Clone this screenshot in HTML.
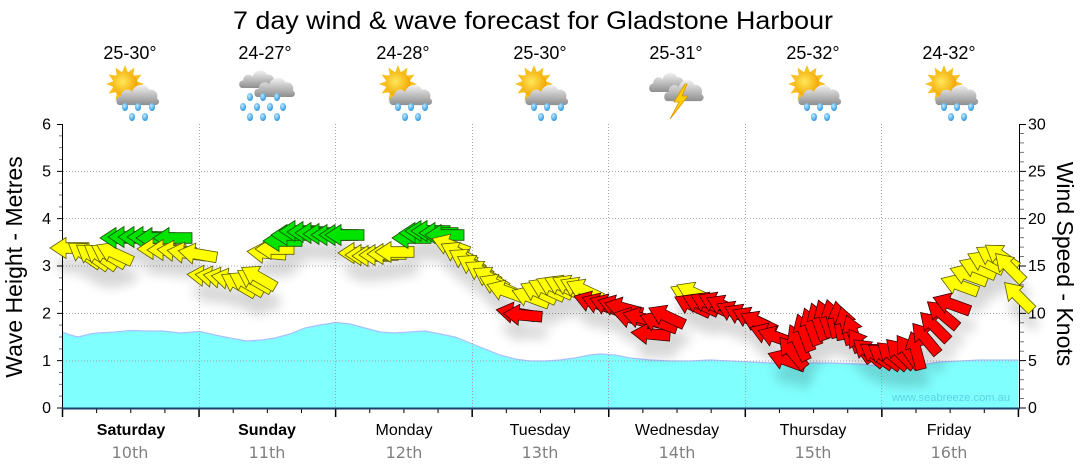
<!DOCTYPE html>
<html><head><meta charset="utf-8">
<style>
html,body{margin:0;padding:0;background:#fff;}
svg{display:block;}
text{font-family:"Liberation Sans",Arial,sans-serif;}
.dv{font-family:"DejaVu Sans",Verdana,sans-serif;}
.y{fill:#ffff00;stroke:#5a5a00;stroke-width:0.8;}
.g{fill:#00e400;stroke:#1a5200;stroke-width:0.8;}
.r{fill:#ff0000;stroke:#3a0000;stroke-width:0.8;}
</style></head><body>
<svg width="1080" height="475" viewBox="0 0 1080 475" xmlns="http://www.w3.org/2000/svg" xmlns:xlink="http://www.w3.org/1999/xlink">
<defs>
 <filter id="sh" filterUnits="userSpaceOnUse" x="0" y="0" width="1080" height="475">
   <feGaussianBlur in="SourceAlpha" stdDeviation="5.5" result="b"/>
   <feOffset in="b" dx="4" dy="17" result="o"/>
   <feComponentTransfer in="o" result="s"><feFuncA type="linear" slope="0.16"/></feComponentTransfer>
   <feMerge><feMergeNode in="s"/><feMergeNode in="SourceGraphic"/></feMerge>
 </filter>
 <linearGradient id="cg" x1="0" y1="0" x2="0" y2="1">
   <stop offset="0" stop-color="#f2f2f2"/><stop offset="1" stop-color="#8e8e8e"/>
 </linearGradient>
 <radialGradient id="sg" cx="0.4" cy="0.4" r="0.6">
   <stop offset="0" stop-color="#ffe85a"/><stop offset="1" stop-color="#f2a600"/>
 </radialGradient>
 <radialGradient id="dg" cx="0.4" cy="0.35" r="0.7">
   <stop offset="0" stop-color="#bfeaff"/><stop offset="1" stop-color="#1f8fdc"/>
 </radialGradient>
 <polygon id="a" points="-19,0 -3,-10.5 -3,-5.3 20,-5.3 20,5.3 -3,5.3 -3,10.5"/>
 <path id="cloud" d="M5,21 C0,21 0,13 6,13 C6,7 14,5 17,9 C19,2 31,0 34,7 C39,6 44,10 42,15 C46,17 44,21 40,21 Z" fill="url(#cg)"/>
 <ellipse id="drop" rx="3" ry="4" fill="url(#dg)"/>
 <g id="sunrain">
   <polygon fill="#f7c020" points="22,-1 24.9,6.3 31.5,1.6 30.1,9.9 38.5,8.5 33.6,15.1 41,18 33.6,20.9 38.5,27.5 30.1,26.1 31.5,34.4 24.9,29.7 22,37 19.1,29.7 12.5,34.4 13.9,26.1 5.5,27.5 10.4,20.9 3,18 10.4,15.1 5.5,8.5 13.9,9.9 12.5,1.6 19.1,6.3"/>
   <circle cx="22" cy="18" r="12.5" fill="url(#sg)"/>
   <use href="#cloud" xlink:href="#cloud" transform="translate(12,16) scale(1,1.1)"/>
   <use href="#drop" xlink:href="#drop" x="22" y="41"/><use href="#drop" xlink:href="#drop" x="35" y="41"/><use href="#drop" xlink:href="#drop" x="49" y="41"/>
   <use href="#drop" xlink:href="#drop" x="29" y="51"/><use href="#drop" xlink:href="#drop" x="42" y="51"/>
 </g>
 <g id="rain">
   <use href="#cloud" xlink:href="#cloud" transform="translate(-1,2) scale(0.85,0.95)"/>
   <use href="#cloud" xlink:href="#cloud" transform="translate(14,9) scale(0.95,1.05)"/>
   <use href="#drop" xlink:href="#drop" x="11" y="31"/><use href="#drop" xlink:href="#drop" x="24" y="31"/><use href="#drop" xlink:href="#drop" x="38" y="31"/>
   <use href="#drop" xlink:href="#drop" x="4" y="41"/><use href="#drop" xlink:href="#drop" x="18" y="41"/><use href="#drop" xlink:href="#drop" x="31" y="41"/><use href="#drop" xlink:href="#drop" x="44" y="41"/>
   <use href="#drop" xlink:href="#drop" x="11" y="51"/><use href="#drop" xlink:href="#drop" x="24" y="51"/><use href="#drop" xlink:href="#drop" x="38" y="51"/>
 </g>
 <g id="storm">
   <use href="#cloud" xlink:href="#cloud" transform="translate(0,4) scale(0.85,1.05)"/>
   <use href="#cloud" xlink:href="#cloud" transform="translate(15,11) scale(0.92,1.15)"/>
   <polygon points="37,18 26,36 31,36 22,53 40,30 34,30 39,18" fill="#ffd000" stroke="#e09000" stroke-width="0.8"/>
 </g>
</defs>

<rect width="1080" height="475" fill="#fff"/>

<text x="533" y="29" font-size="25" text-anchor="middle" fill="#000" textLength="600" lengthAdjust="spacingAndGlyphs">7 day wind &amp; wave forecast for Gladstone Harbour</text>

<g font-size="18" text-anchor="middle" fill="#000">
 <text x="130" y="59">25-30°</text>
 <text x="265" y="59">24-27°</text>
 <text x="403" y="59">24-28°</text>
 <text x="540" y="59">25-30°</text>
 <text x="676" y="59">25-31°</text>
 <text x="813" y="59">25-32°</text>
 <text x="949" y="59">24-32°</text>
</g>

<use href="#sunrain" xlink:href="#sunrain" x="103" y="66"/>
<use href="#rain" xlink:href="#rain" x="239" y="66"/>
<use href="#sunrain" xlink:href="#sunrain" x="376" y="66"/>
<use href="#sunrain" xlink:href="#sunrain" x="512" y="66"/>
<use href="#storm" xlink:href="#storm" x="648" y="66"/>
<use href="#sunrain" xlink:href="#sunrain" x="785" y="66"/>
<use href="#sunrain" xlink:href="#sunrain" x="922" y="66"/>

<path d="M62.5,408 L62.5,332 L70,335 L78,337 L90,334 L97,333 L115,332 L130,330.5 L145,331 L163,331 L180,333 L200,331.5 L215,335 L230,338 L247,341 L262,340 L275,338 L290,334 L305,328 L320,325 L336,322.5 L350,324 L365,328 L380,332 L395,333 L410,332 L425,331 L440,334 L455,337 L470,343 L485,349 L500,355 L515,359 L530,361 L545,361 L560,360 L575,358 L590,355 L600,354 L615,355 L630,358 L650,360 L670,361 L690,361 L710,360 L730,361 L750,362 L770,363 L800,363 L830,363 L860,364 L880,366 L900,366 L920,365 L940,362 L960,361 L980,360 L1000,360 L1018.5,360 L1018.5,408 Z" fill="#80ffff"/>
<path d="M62.5,332 L70,335 L78,337 L90,334 L97,333 L115,332 L130,330.5 L145,331 L163,331 L180,333 L200,331.5 L215,335 L230,338 L247,341 L262,340 L275,338 L290,334 L305,328 L320,325 L336,322.5 L350,324 L365,328 L380,332 L395,333 L410,332 L425,331 L440,334 L455,337 L470,343 L485,349 L500,355 L515,359 L530,361 L545,361 L560,360 L575,358 L590,355 L600,354 L615,355 L630,358 L650,360 L670,361 L690,361 L710,360 L730,361 L750,362 L770,363 L800,363 L830,363 L860,364 L880,366 L900,366 L920,365 L940,362 L960,361 L980,360 L1000,360 L1018.5,360" fill="none" stroke="#a8c0ff" stroke-width="1.2"/>

<text x="892" y="401" font-size="11" fill="#5cd2e2" textLength="118" lengthAdjust="spacingAndGlyphs">www.seabreeze.com.au</text>

<g stroke="#a8a8a8" stroke-width="1" stroke-dasharray="1,2" fill="none">
 <line x1="63" y1="361" x2="1018" y2="361"/>
 <line x1="63" y1="313.5" x2="1018" y2="313.5"/>
 <line x1="63" y1="266" x2="1018" y2="266"/>
 <line x1="63" y1="218.5" x2="1018" y2="218.5"/>
 <line x1="63" y1="171.5" x2="1018" y2="171.5"/>
 <line x1="199.5" y1="124" x2="199.5" y2="408"/>
 <line x1="335.5" y1="124" x2="335.5" y2="408"/>
 <line x1="472.5" y1="124" x2="472.5" y2="408"/>
 <line x1="608.5" y1="124" x2="608.5" y2="408"/>
 <line x1="745.5" y1="124" x2="745.5" y2="408"/>
 <line x1="881.5" y1="124" x2="881.5" y2="408"/>
</g>

<path stroke="#777" stroke-width="1" fill="none" d="M59,396.17h3.5M59,384.33h3.5M59,372.5h3.5M59,348.83h3.5M59,337h3.5M59,325.17h3.5M59,301.5h3.5M59,289.67h3.5M59,277.83h3.5M59,254.17h3.5M59,242.33h3.5M59,230.5h3.5M59,206.83h3.5M59,195h3.5M59,183.17h3.5M59,159.5h3.5M59,147.67h3.5M59,135.83h3.5"/>
<path stroke="#000" stroke-width="1" fill="none" d="M57,408h5.5M57,360.67h5.5M57,313.33h5.5M57,266h5.5M57,218.67h5.5M57,171.33h5.5M57,124.5h5.5"/>
<path stroke="#777" stroke-width="1" fill="none" d="M1019.5,398.53h4.5M1019.5,389.07h4.5M1019.5,379.6h4.5M1019.5,370.13h4.5M1019.5,351.2h4.5M1019.5,341.73h4.5M1019.5,332.27h4.5M1019.5,322.8h4.5M1019.5,303.87h4.5M1019.5,294.4h4.5M1019.5,284.93h4.5M1019.5,275.47h4.5M1019.5,256.53h4.5M1019.5,247.07h4.5M1019.5,237.6h4.5M1019.5,228.13h4.5M1019.5,209.2h4.5M1019.5,199.73h4.5M1019.5,190.27h4.5M1019.5,180.8h4.5M1019.5,161.87h4.5M1019.5,152.4h4.5M1019.5,142.93h4.5M1019.5,133.47h4.5"/>
<path stroke="#000" stroke-width="1" fill="none" d="M1019.5,408h6.5M1019.5,360.67h6.5M1019.5,313.33h6.5M1019.5,266h6.5M1019.5,218.67h6.5M1019.5,171.33h6.5M1019.5,124.5h6.5"/>
<path stroke="#000" stroke-width="1" fill="none" d="M96.64,408v5M130.78,408v5M164.92,408v5M233.2,408v5M267.34,408v5M301.48,408v5M369.76,408v5M403.9,408v5M438.04,408v5M506.32,408v5M540.46,408v5M574.6,408v5M642.88,408v5M677.02,408v5M711.16,408v5M779.44,408v5M813.58,408v5M847.72,408v5M916,408v5M950.14,408v5M984.28,408v5"/>
<path stroke="#000" stroke-width="1.5" fill="none" d="M62.5,408v9M199.06,408v9M335.62,408v9M472.18,408v9M608.74,408v9M745.3,408v9M881.86,408v9M1018.42,408v9"/>

<line x1="62.5" y1="124" x2="62.5" y2="409" stroke="#000" stroke-width="1"/>
<line x1="1019.5" y1="124" x2="1019.5" y2="409" stroke="#000" stroke-width="1"/>
<line x1="62" y1="408.5" x2="1020" y2="408.5" stroke="#1c3f6e" stroke-width="2"/>

<g font-size="16" text-anchor="end" fill="#000">
 <text x="51" y="413">0</text>
 <text x="51" y="366">1</text>
 <text x="51" y="318.5">2</text>
 <text x="51" y="271">3</text>
 <text x="51" y="224">4</text>
 <text x="51" y="176.5">5</text>
 <text x="51" y="129.5">6</text>
</g>
<g font-size="16" text-anchor="start" fill="#000">
 <text x="1028" y="413">0</text>
 <text x="1028" y="366">5</text>
 <text x="1028" y="318.5">10</text>
 <text x="1028" y="271">15</text>
 <text x="1028" y="224">20</text>
 <text x="1028" y="176.5">25</text>
 <text x="1028" y="129.5">30</text>
</g>

<text transform="translate(22,267) rotate(-90)" font-size="23" text-anchor="middle" fill="#000">Wave Height - Metres</text>
<text transform="translate(1057,264) rotate(90)" font-size="23" text-anchor="middle" fill="#000">Wind Speed - Knots</text>

<g font-size="16" text-anchor="middle" fill="#000">
 <text x="131" y="435" font-weight="bold">Saturday</text>
 <text x="267" y="435" font-weight="bold">Sunday</text>
 <text x="404" y="435">Monday</text>
 <text x="540" y="435">Tuesday</text>
 <text x="677" y="435">Wednesday</text>
 <text x="813" y="435">Thursday</text>
 <text x="949" y="435">Friday</text>
</g>
<g font-size="16" text-anchor="middle" fill="#808080">
 <text class="dv" x="130" y="458">10th</text>
 <text class="dv" x="267" y="458">11th</text>
 <text class="dv" x="404" y="458">12th</text>
 <text class="dv" x="540" y="458">13th</text>
 <text class="dv" x="677" y="458">14th</text>
 <text class="dv" x="813" y="458">15th</text>
 <text class="dv" x="949" y="458">16th</text>
</g>

<g filter="url(#sh)">
<use href="#a" xlink:href="#a" class="y" transform="translate(69,248) rotate(0)"/>
<use href="#a" xlink:href="#a" class="y" transform="translate(84,254) rotate(35)"/>
<use href="#a" xlink:href="#a" class="y" transform="translate(92,256) rotate(35)"/>
<use href="#a" xlink:href="#a" class="y" transform="translate(100,256) rotate(35)"/>
<use href="#a" xlink:href="#a" class="y" transform="translate(108,255) rotate(30)"/>
<use href="#a" xlink:href="#a" class="y" transform="translate(114,253) rotate(25)"/>
<use href="#a" xlink:href="#a" class="g" transform="translate(119,238) rotate(0)"/>
<use href="#a" xlink:href="#a" class="g" transform="translate(127,237) rotate(0)"/>
<use href="#a" xlink:href="#a" class="g" transform="translate(137,237) rotate(0)"/>
<use href="#a" xlink:href="#a" class="g" transform="translate(146,237) rotate(0)"/>
<use href="#a" xlink:href="#a" class="g" transform="translate(155,238) rotate(0)"/>
<use href="#a" xlink:href="#a" class="g" transform="translate(172,238) rotate(0)"/>
<use href="#a" xlink:href="#a" class="y" transform="translate(156,249) rotate(0)"/>
<use href="#a" xlink:href="#a" class="y" transform="translate(166,250) rotate(0)"/>
<use href="#a" xlink:href="#a" class="y" transform="translate(176,251) rotate(5)"/>
<use href="#a" xlink:href="#a" class="y" transform="translate(186,253) rotate(8)"/>
<use href="#a" xlink:href="#a" class="y" transform="translate(197,254) rotate(10)"/>
<use href="#a" xlink:href="#a" class="y" transform="translate(206,276) rotate(5)"/>
<use href="#a" xlink:href="#a" class="y" transform="translate(214,277) rotate(8)"/>
<use href="#a" xlink:href="#a" class="y" transform="translate(222,278) rotate(10)"/>
<use href="#a" xlink:href="#a" class="y" transform="translate(230,279) rotate(10)"/>
<use href="#a" xlink:href="#a" class="y" transform="translate(238,284) rotate(30)"/>
<use href="#a" xlink:href="#a" class="y" transform="translate(246,283) rotate(30)"/>
<use href="#a" xlink:href="#a" class="y" transform="translate(254,280) rotate(30)"/>
<use href="#a" xlink:href="#a" class="y" transform="translate(258,277) rotate(30)"/>
<use href="#a" xlink:href="#a" class="y" transform="translate(266,253) rotate(5)"/>
<use href="#a" xlink:href="#a" class="y" transform="translate(274,249) rotate(0)"/>
<use href="#a" xlink:href="#a" class="g" transform="translate(282,241) rotate(0)"/>
<use href="#a" xlink:href="#a" class="g" transform="translate(290,235) rotate(0)"/>
<use href="#a" xlink:href="#a" class="g" transform="translate(298,231) rotate(0)"/>
<use href="#a" xlink:href="#a" class="g" transform="translate(306,232) rotate(0)"/>
<use href="#a" xlink:href="#a" class="g" transform="translate(314,233) rotate(0)"/>
<use href="#a" xlink:href="#a" class="g" transform="translate(322,234) rotate(0)"/>
<use href="#a" xlink:href="#a" class="g" transform="translate(330,235) rotate(0)"/>
<use href="#a" xlink:href="#a" class="g" transform="translate(338,235) rotate(0)"/>
<use href="#a" xlink:href="#a" class="g" transform="translate(344,235) rotate(0)"/>
<use href="#a" xlink:href="#a" class="y" transform="translate(357,253) rotate(0)"/>
<use href="#a" xlink:href="#a" class="y" transform="translate(364,255) rotate(0)"/>
<use href="#a" xlink:href="#a" class="y" transform="translate(371,256) rotate(0)"/>
<use href="#a" xlink:href="#a" class="y" transform="translate(378,255) rotate(0)"/>
<use href="#a" xlink:href="#a" class="y" transform="translate(386,254) rotate(0)"/>
<use href="#a" xlink:href="#a" class="y" transform="translate(394,252) rotate(0)"/>
<use href="#a" xlink:href="#a" class="g" transform="translate(411,238) rotate(0)"/>
<use href="#a" xlink:href="#a" class="g" transform="translate(418,233) rotate(0)"/>
<use href="#a" xlink:href="#a" class="g" transform="translate(424,231) rotate(0)"/>
<use href="#a" xlink:href="#a" class="g" transform="translate(430,231) rotate(0)"/>
<use href="#a" xlink:href="#a" class="g" transform="translate(438,233) rotate(0)"/>
<use href="#a" xlink:href="#a" class="g" transform="translate(444,235) rotate(0)"/>
<use href="#a" xlink:href="#a" class="y" transform="translate(450,245) rotate(20)"/>
<use href="#a" xlink:href="#a" class="y" transform="translate(458,253) rotate(28)"/>
<use href="#a" xlink:href="#a" class="y" transform="translate(466,260) rotate(30)"/>
<use href="#a" xlink:href="#a" class="y" transform="translate(474,266) rotate(30)"/>
<use href="#a" xlink:href="#a" class="y" transform="translate(482,272) rotate(30)"/>
<use href="#a" xlink:href="#a" class="y" transform="translate(490,278) rotate(30)"/>
<use href="#a" xlink:href="#a" class="y" transform="translate(497,285) rotate(25)"/>
<use href="#a" xlink:href="#a" class="y" transform="translate(505,291) rotate(20)"/>
<use href="#a" xlink:href="#a" class="r" transform="translate(515,313) rotate(10)"/>
<use href="#a" xlink:href="#a" class="r" transform="translate(522,315) rotate(5)"/>
<use href="#a" xlink:href="#a" class="y" transform="translate(530,297) rotate(20)"/>
<use href="#a" xlink:href="#a" class="y" transform="translate(538,292) rotate(25)"/>
<use href="#a" xlink:href="#a" class="y" transform="translate(546,289) rotate(25)"/>
<use href="#a" xlink:href="#a" class="y" transform="translate(554,287) rotate(25)"/>
<use href="#a" xlink:href="#a" class="y" transform="translate(562,286) rotate(25)"/>
<use href="#a" xlink:href="#a" class="y" transform="translate(570,286) rotate(25)"/>
<use href="#a" xlink:href="#a" class="y" transform="translate(578,288) rotate(25)"/>
<use href="#a" xlink:href="#a" class="y" transform="translate(584,290) rotate(25)"/>
<use href="#a" xlink:href="#a" class="r" transform="translate(592,302) rotate(18)"/>
<use href="#a" xlink:href="#a" class="r" transform="translate(600,304) rotate(20)"/>
<use href="#a" xlink:href="#a" class="r" transform="translate(608,305) rotate(20)"/>
<use href="#a" xlink:href="#a" class="r" transform="translate(616,306) rotate(18)"/>
<use href="#a" xlink:href="#a" class="r" transform="translate(623,308) rotate(15)"/>
<use href="#a" xlink:href="#a" class="r" transform="translate(632,318) rotate(15)"/>
<use href="#a" xlink:href="#a" class="r" transform="translate(641,318) rotate(15)"/>
<use href="#a" xlink:href="#a" class="r" transform="translate(650,334) rotate(5)"/>
<use href="#a" xlink:href="#a" class="r" transform="translate(658,322) rotate(20)"/>
<use href="#a" xlink:href="#a" class="r" transform="translate(666,316) rotate(25)"/>
<use href="#a" xlink:href="#a" class="y" transform="translate(688,295) rotate(25)"/>
<use href="#a" xlink:href="#a" class="y" transform="translate(694,293) rotate(25)"/>
<use href="#a" xlink:href="#a" class="r" transform="translate(692,305) rotate(25)"/>
<use href="#a" xlink:href="#a" class="r" transform="translate(700,304) rotate(25)"/>
<use href="#a" xlink:href="#a" class="r" transform="translate(708,303) rotate(25)"/>
<use href="#a" xlink:href="#a" class="r" transform="translate(716,303) rotate(25)"/>
<use href="#a" xlink:href="#a" class="r" transform="translate(724,306) rotate(25)"/>
<use href="#a" xlink:href="#a" class="r" transform="translate(734,312) rotate(25)"/>
<use href="#a" xlink:href="#a" class="r" transform="translate(742,315) rotate(25)"/>
<use href="#a" xlink:href="#a" class="r" transform="translate(750,318) rotate(25)"/>
<use href="#a" xlink:href="#a" class="r" transform="translate(758,322) rotate(25)"/>
<use href="#a" xlink:href="#a" class="r" transform="translate(768,334) rotate(20)"/>
<use href="#a" xlink:href="#a" class="r" transform="translate(776,337) rotate(20)"/>
<use href="#a" xlink:href="#a" class="r" transform="translate(786,360) rotate(20)"/>
<use href="#a" xlink:href="#a" class="r" transform="translate(792,352) rotate(50)"/>
<use href="#a" xlink:href="#a" class="r" transform="translate(798,342) rotate(65)"/>
<use href="#a" xlink:href="#a" class="r" transform="translate(804,332) rotate(70)"/>
<use href="#a" xlink:href="#a" class="r" transform="translate(811,326) rotate(70)"/>
<use href="#a" xlink:href="#a" class="r" transform="translate(818,321) rotate(70)"/>
<use href="#a" xlink:href="#a" class="r" transform="translate(825,318) rotate(70)"/>
<use href="#a" xlink:href="#a" class="r" transform="translate(832,318) rotate(75)"/>
<use href="#a" xlink:href="#a" class="r" transform="translate(839,320) rotate(80)"/>
<use href="#a" xlink:href="#a" class="r" transform="translate(846,325) rotate(75)"/>
<use href="#a" xlink:href="#a" class="r" transform="translate(853,333) rotate(70)"/>
<use href="#a" xlink:href="#a" class="r" transform="translate(860,345) rotate(55)"/>
<use href="#a" xlink:href="#a" class="r" transform="translate(868,352) rotate(40)"/>
<use href="#a" xlink:href="#a" class="r" transform="translate(876,355) rotate(35)"/>
<use href="#a" xlink:href="#a" class="r" transform="translate(884,356) rotate(35)"/>
<use href="#a" xlink:href="#a" class="r" transform="translate(892,355) rotate(40)"/>
<use href="#a" xlink:href="#a" class="r" transform="translate(900,353) rotate(45)"/>
<use href="#a" xlink:href="#a" class="r" transform="translate(908,351) rotate(55)"/>
<use href="#a" xlink:href="#a" class="r" transform="translate(916,350) rotate(75)"/>
<use href="#a" xlink:href="#a" class="r" transform="translate(925,338) rotate(50)"/>
<use href="#a" xlink:href="#a" class="r" transform="translate(934,326) rotate(45)"/>
<use href="#a" xlink:href="#a" class="r" transform="translate(942,314) rotate(40)"/>
<use href="#a" xlink:href="#a" class="r" transform="translate(951,304) rotate(20)"/>
<use href="#a" xlink:href="#a" class="y" transform="translate(959,285) rotate(20)"/>
<use href="#a" xlink:href="#a" class="y" transform="translate(968,275) rotate(20)"/>
<use href="#a" xlink:href="#a" class="y" transform="translate(977,268) rotate(22)"/>
<use href="#a" xlink:href="#a" class="y" transform="translate(985,262) rotate(25)"/>
<use href="#a" xlink:href="#a" class="y" transform="translate(993,257) rotate(30)"/>
<use href="#a" xlink:href="#a" class="y" transform="translate(1001,256) rotate(35)"/>
<use href="#a" xlink:href="#a" class="y" transform="translate(1009,267) rotate(45)"/>
<use href="#a" xlink:href="#a" class="y" transform="translate(1018,296) rotate(45)"/>
</g>
</svg>
</body></html>
